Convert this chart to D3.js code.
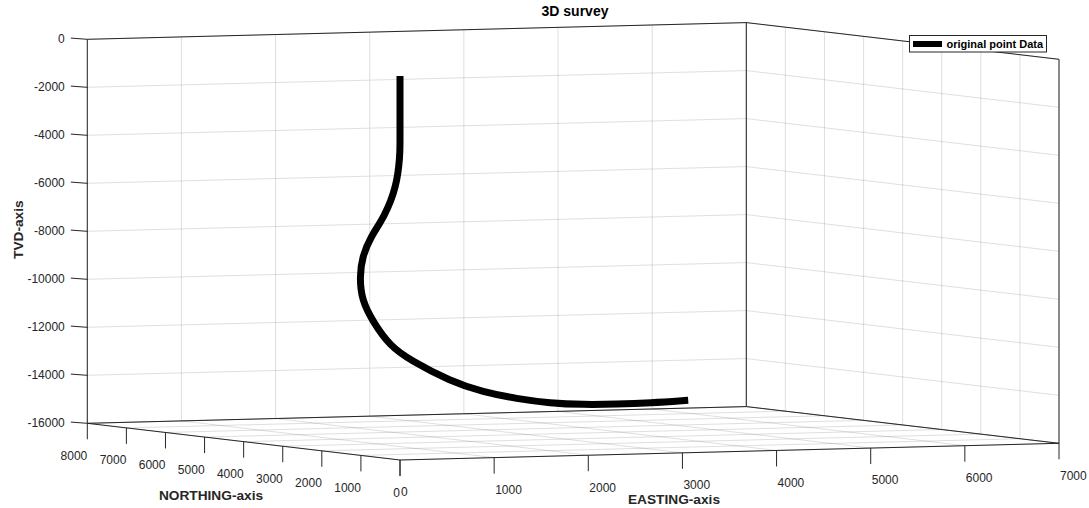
<!DOCTYPE html>
<html>
<head>
<meta charset="utf-8">
<script src="https://cdn.jsdelivr.net/npm/d3@7"></script>
<style>
  body { margin: 0; background: #fff; }
  svg { display: block; }
  text { font-family: "Liberation Sans", Arial, Helvetica, sans-serif; }
</style>
</head>
<body>
<svg id="chart" width="1089" height="508"></svg>
<script>
// Axis ticks
const eastingTicks = [0, 1000, 2000, 3000, 4000, 5000, 6000, 7000];
const northingTicks = [0, 1000, 2000, 3000, 4000, 5000, 6000, 7000, 8000];
const tvdTicks = [0, -2000, -4000, -6000, -8000, -10000, -12000, -14000, -16000];

// Survey stations (ft)
const surveyEasting  = [0, 0, 0, 0, 0, 2, 10, 14, 33, 78, 195, 387, 625, 880, 1354, 1730, 2104, 2471, 2830, 3192, 3549, 3954];
const surveyNorthing = [0, 0, 0, 0, 0, 90, 420, 785, 1045, 1220, 1450, 1620, 1760, 1860, 1980, 2040, 2080, 2110, 2130, 2140, 2145, 2150];
const surveyTvd      = [0, -1000, -2000, -2800, -3300, -4630, -5944, -6851, -7734, -8605, -9632, -10600, -11650, -12280, -13227, -13735, -14051, -14282, -14384, -14402, -14385, -14314];

const svg = d3.select("#chart");
const ink = "#262626";

// Data -> unit box
const xS = d3.scaleLinear().domain([0, 7000]).range([0, 1]);
const yS = d3.scaleLinear().domain([0, 8000]).range([0, 1]);
const zS = d3.scaleLinear().domain([-16000, 0]).range([0, 1]);

// Orthographic view of the unit box: screen origin and edge vectors
const origin = [400, 460];
const ex = [659, -16.7];
const ey = [-312.7, -36.7];
const ez = [0, -384];
function proj(e, n, z) {
  const a = xS(e), b = yS(n), c = zS(z);
  return [origin[0] + a * ex[0] + b * ey[0] + c * ez[0],
          origin[1] + a * ex[1] + b * ey[1] + c * ez[1]];
}

const E0 = 0, E1 = 7000, N0 = 0, N1 = 8000, Z0 = -16000, Z1 = 0;

function seg(g, p, q, stroke, width, opacity) {
  g.append("line")
    .attr("x1", p[0]).attr("y1", p[1])
    .attr("x2", q[0]).attr("y2", q[1])
    .attr("stroke", stroke)
    .attr("stroke-width", width)
    .attr("stroke-opacity", opacity == null ? 1 : opacity);
}

// Grid on the back walls and the floor
const grid = svg.append("g");
const gOp = 0.15;
eastingTicks.forEach(e => {
  seg(grid, proj(e, N1, Z0), proj(e, N1, Z1), ink, 1, gOp);   // back wall
  seg(grid, proj(e, N0, Z0), proj(e, N1, Z0), ink, 1, gOp);   // floor
});
northingTicks.forEach(n => {
  seg(grid, proj(E1, n, Z0), proj(E1, n, Z1), ink, 1, gOp);   // side wall
  seg(grid, proj(E0, n, Z0), proj(E1, n, Z0), ink, 1, gOp);   // floor
});
tvdTicks.forEach(z => {
  seg(grid, proj(E0, N1, z), proj(E1, N1, z), ink, 1, gOp);
  seg(grid, proj(E1, N0, z), proj(E1, N1, z), ink, 1, gOp);
});

// Box edges
const box = svg.append("g");
[
  [[E0, N0, Z0], [E1, N0, Z0]],
  [[E0, N0, Z0], [E0, N1, Z0]],
  [[E0, N1, Z0], [E1, N1, Z0]],
  [[E1, N0, Z0], [E1, N1, Z0]],
  [[E0, N1, Z0], [E0, N1, Z1]],
  [[E1, N1, Z0], [E1, N1, Z1]],
  [[E1, N0, Z0], [E1, N0, Z1]],
  [[E0, N1, Z1], [E1, N1, Z1]],
  [[E1, N1, Z1], [E1, N0, Z1]]
].forEach(([a, b]) => seg(box, proj(...a), proj(...b), ink, 1));

// Ticks and labels
const axes = svg.append("g").attr("fill", ink).attr("font-size", 12);
const tickLen = 16;

tvdTicks.forEach(z => {
  const p = proj(E0, N1, z);
  const q = [p[0] - 16.5, p[1] - 1.2];
  seg(axes, p, q, ink, 1);
  axes.append("text")
    .attr("x", q[0] - 6).attr("y", q[1] + 4.4)
    .attr("text-anchor", "end")
    .text(z);
});

eastingTicks.forEach(e => {
  const p = proj(e, N0, Z0);
  seg(axes, p, [p[0], p[1] + tickLen], ink, 1);
  axes.append("text")
    .attr("x", p[0] + 1).attr("y", p[1] + 36.3)
    .attr("text-anchor", "start")
    .text(e);
});

northingTicks.forEach(n => {
  const p = proj(E0, n, Z0);
  seg(axes, p, [p[0], p[1] + tickLen], ink, 1);
  axes.append("text")
    .attr("x", p[0]).attr("y", p[1] + 36.5)
    .attr("text-anchor", "end")
    .text(n);
});

// Axis titles
const labels = svg.append("g").attr("fill", ink).attr("font-weight", "bold").attr("font-size", 13.7);
labels.append("text").attr("x", 211).attr("y", 500).attr("text-anchor", "middle").text("NORTHING-axis");
labels.append("text").attr("x", 674).attr("y", 504).attr("text-anchor", "middle").text("EASTING-axis");
labels.append("text").attr("transform", "translate(22.5,229.7) rotate(-90)").attr("text-anchor", "middle").text("TVD-axis");

svg.append("text")
  .attr("x", 575).attr("y", 16)
  .attr("text-anchor", "middle")
  .attr("font-weight", "bold").attr("font-size", 14)
  .attr("fill", "#000")
  .text("3D survey");

// Well path
const stations = surveyTvd.map((z, i) => proj(surveyEasting[i], surveyNorthing[i], z));
svg.append("path")
  .attr("d", d3.line().curve(d3.curveBasis)(stations))
  .attr("fill", "none")
  .attr("stroke", "#000")
  .attr("stroke-width", 7)
  .attr("stroke-linecap", "butt")
  .attr("stroke-linejoin", "round");

// Legend
const legend = svg.append("g");
legend.append("rect")
  .attr("x", 909.5).attr("y", 35.5).attr("width", 137).attr("height", 16.5)
  .attr("fill", "#fff").attr("stroke", ink).attr("stroke-width", 1);
legend.append("line")
  .attr("x1", 913).attr("x2", 942).attr("y1", 44).attr("y2", 44)
  .attr("stroke", "#000").attr("stroke-width", 6);
legend.append("text")
  .attr("x", 946.5).attr("y", 48)
  .attr("font-size", 11).attr("font-weight", "bold").attr("fill", "#000")
  .text("original point Data");
</script>
</body>
</html>
